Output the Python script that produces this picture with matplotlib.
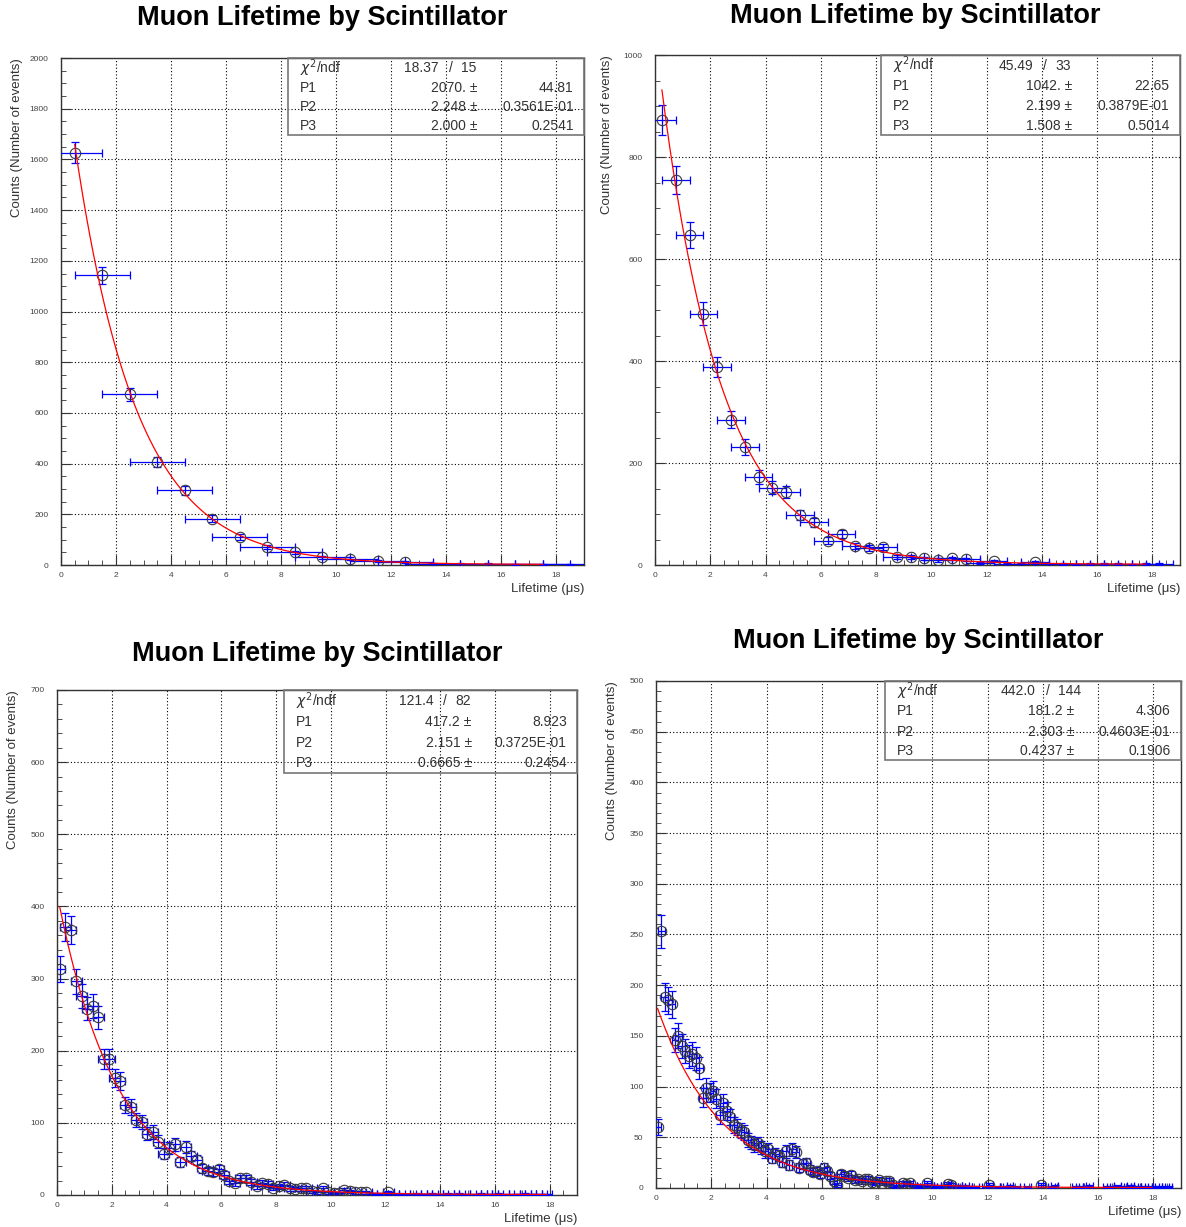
import numpy as np
import matplotlib
matplotlib.use('Agg')
import matplotlib.pyplot as plt
from matplotlib.ticker import MultipleLocator
from matplotlib.patches import Rectangle

plt.rcParams['font.family'] = ['Liberation Sans', 'DejaVu Sans']

TITLE = 'Muon Lifetime by Scintillator'

# ---- panel 1 : 1 us bins ----
p1_start, p1_width = 0.5, 1.0
p1_counts = [1627, 1143, 673, 405, 295, 183, 110, 70, 50, 30, 25, 15, 12,
             6, 5, 5, 4, 4, 4]
p1_fit = [2070., 2.248, 2.000]
p1_chi2, p1_ndf = '18.37', '15'
p1_vals = ['2070.', '2.248', '2.000']
p1_errs = ['44.81', '0.3561E-01', '0.2541']

# ---- panel 2 : 0.5 us bins ----
p2_start, p2_width = 0.25, 0.5
p2_counts = [872, 755, 647, 493, 388, 285, 231, 173, 152, 143, 98, 84, 48, 60,
             38, 33, 35, 16, 15, 13, 10, 13, 11, 4, 8, 3, 3, 6, 3, 2, 1, 2, 2,
             2, 1, 2, 2]
p2_fit = [1042., 2.199, 1.508]
p2_chi2, p2_ndf = '45.49', '33'
p2_vals = ['1042.', '2.199', '1.508']
p2_errs = ['22.65', '0.3879E-01', '0.5014']

# ---- panel 3 : 0.2 us bins ----
p3_start, p3_width = 0.1, 0.2
p3_counts = [313, 372, 367, 296, 276, 258, 262, 246, 188, 188, 162, 158, 125,
             122, 104, 101, 85, 87, 74, 57, 65, 70, 46, 66, 54, 48, 37, 33, 32,
             36, 28, 19, 17, 23, 23, 18, 12, 17, 15, 10, 12, 14, 9, 8, 9, 9, 5,
             4, 9, 4, 3, 3, 7, 5, 4, 4, 4, 2, 2, 2, 4, 1, 2, 1, 0, 2, 1, 1, 2,
             1, 0, 2, 1, 2, 1, 0, 1, 2, 1, 1, 2, 1, 0, 1, 1, 2, 1, 1, 1, 1]
p3_fit = [417.2, 2.151, 0.6665]
p3_chi2, p3_ndf = '121.4', '82'
p3_vals = ['417.2', '2.151', '0.6665']
p3_errs = ['8.923', '0.3725E-01', '0.2454']

# ---- panel 4 : 0.125 us bins ----
p4_start, p4_width = 0.0625, 0.125
p4_counts = [60, 253, 188, 185, 181, 146, 150, 140, 135, 130, 132, 128, 118,
             89, 99, 94, 96, 88, 72, 84, 76, 70, 62, 60, 57, 55, 47, 45, 42,
             44, 40, 36, 38, 30, 34, 32, 26, 36, 23, 38, 35, 20, 24, 25, 18,
             16, 17, 14, 20, 17, 12, 7, 3, 14, 12, 10, 13, 8, 9, 7, 9, 9, 6,
             5, 8, 5, 7, 7, 3, 1, 2, 5, 4, 5, 2, 1, 2, 1, 5, 2, 1, 2, 1, 2, 4,
             3, 1, 2, 1, 2, 1, 0, 1, 0, 0, 1, 3, 0, 1, 0, 1, 1, 2, 0, 1, 0, 0,
             1, 0, 0, 0, 3, 0, 0, 1, 2, 0, 0, 0, 0, 0, 1, 1, 0, 1, 2, 0, 0, 0,
             0, 1, 1, 0, 2, 0, 1, 1, 2, 1, 1, 0, 1, 1, 0, 1, 1, 0, 1, 1]
p4_fit = [181.2, 2.303, 0.4237]
p4_chi2, p4_ndf = '442.0', '144'
p4_vals = ['181.2', '2.303', '0.4237']
p4_errs = ['4.306', '0.4603E-01', '0.1906']


def draw_panel(ax, start, width, counts, fit, fit_range, ymax, ymaj, ymin,
               mark_min, chi2, ndf, vals, errs, box_x, box_y, ylab_x):
    y = np.array(counts, dtype=float)
    x = start + width * np.arange(len(y))
    ok = y > 0
    ax.errorbar(x[ok], y[ok], xerr=width, yerr=np.sqrt(y[ok]), fmt='none',
                ecolor='#0000ff', elinewidth=0.9, capsize=2.8, capthick=0.9,
                zorder=3)
    m = y >= mark_min
    ax.plot(x[m], y[m], 'o', mfc='none', mec='#3a3a3a', ms=7.5, mew=0.8,
            zorder=4)

    t = np.linspace(fit_range[0], fit_range[1], 500)
    ax.plot(t, fit[0] * np.exp(-t / fit[1]) + fit[2], color='red', lw=0.9,
            zorder=5)

    ax.set_xlim(0, 19)
    ax.set_ylim(0, ymax)
    ax.xaxis.set_major_locator(MultipleLocator(2))
    ax.xaxis.set_minor_locator(MultipleLocator(0.5))
    ax.yaxis.set_major_locator(MultipleLocator(ymaj))
    ax.yaxis.set_minor_locator(MultipleLocator(ymin))
    ax.tick_params(which='both', direction='in', top=False, right=False,
                   labelsize=6, labelcolor='#444444', color='#333333')
    ax.tick_params(which='major', length=7)
    ax.tick_params(which='minor', length=3.5)
    ax.tick_params(axis='y', pad=9)
    ax.tick_params(axis='x', pad=5)
    ax.grid(True, which='major', color='black', linestyle=(0, (1, 2)),
            lw=0.8)
    for s in ax.spines.values():
        s.set_color('#333333')
        s.set_linewidth(1.0)

    ax.text(ylab_x, 1.0, 'Counts (Number of events)', rotation=90,
            ha='center', va='top', fontsize=9.5, color='#333333',
            transform=ax.transAxes)
    ax.text(1.0, -0.035, 'Lifetime (\u03bcs)', ha='right', va='top',
            fontsize=9.5, color='#333333', transform=ax.transAxes)

    # stat box
    bw, bh = 1.0 - box_x, 1.0 - box_y
    ax.add_patch(Rectangle((box_x, box_y), bw, bh, transform=ax.transAxes,
                           fill=False, ec='#777777', lw=1.2, zorder=6,
                           clip_on=False))
    rows = [0.13, 0.385, 0.64, 0.885]
    kw = dict(fontsize=10, color='#333333', va='center',
              transform=ax.transAxes, zorder=7)
    ry = [1.0 - r * bh for r in rows]
    ax.text(box_x + 0.04 * bw, ry[0], r'$\chi^2$/ndf', ha='left', **kw)
    ax.text(box_x + 0.51 * bw, ry[0], chi2, ha='right', **kw)
    ax.text(box_x + 0.55 * bw, ry[0], '/', ha='center', **kw)
    ax.text(box_x + 0.585 * bw, ry[0], ndf, ha='left', **kw)
    for i in range(3):
        ax.text(box_x + 0.04 * bw, ry[i + 1], 'P%d' % (i + 1), ha='left', **kw)
        ax.text(box_x + 0.64 * bw, ry[i + 1], vals[i] + ' \u00b1', ha='right',
                **kw)
        ax.text(box_x + 0.965 * bw, ry[i + 1], errs[i], ha='right', **kw)


fig = plt.figure(figsize=(11.86, 12.27), dpi=100)

ax1 = fig.add_axes([0.0514, 0.5395, 0.441, 0.4132])
draw_panel(ax1, p1_start, p1_width, p1_counts, p1_fit, (0.5, 17.5), 2000,
           200, 50, 10, p1_chi2, p1_ndf, p1_vals, p1_errs, 0.434, 0.848,
           -0.084)

ax2 = fig.add_axes([0.5523, 0.5395, 0.4427, 0.4156])
draw_panel(ax2, p2_start, p2_width, p2_counts, p2_fit, (0.25, 17.75), 1000,
           200, 50, 5, p2_chi2, p2_ndf, p2_vals, p2_errs, 0.43, 0.843,
           -0.091)

ax3 = fig.add_axes([0.0481, 0.0261, 0.4385, 0.4116])
draw_panel(ax3, p3_start, p3_width, p3_counts, p3_fit, (0.1, 17.9), 700,
           100, 20, 3, p3_chi2, p3_ndf, p3_vals, p3_errs, 0.437, 0.836,
           -0.085)

ax4 = fig.add_axes([0.5531, 0.0318, 0.4427, 0.4132])
draw_panel(ax4, p4_start, p4_width, p4_counts, p4_fit, (0.06, 17.95), 500,
           50, 10, 3, p4_chi2, p4_ndf, p4_vals, p4_errs, 0.436, 0.844,
           -0.084)

for (tx, ty) in [(0.272, 0.9853), (0.7715, 0.987), (0.2673, 0.467),
                 (0.774, 0.4776)]:
    fig.text(tx, ty, TITLE, fontsize=19.5, fontweight='bold', ha='center',
             va='center')

fig.savefig('out.png', dpi=100)
